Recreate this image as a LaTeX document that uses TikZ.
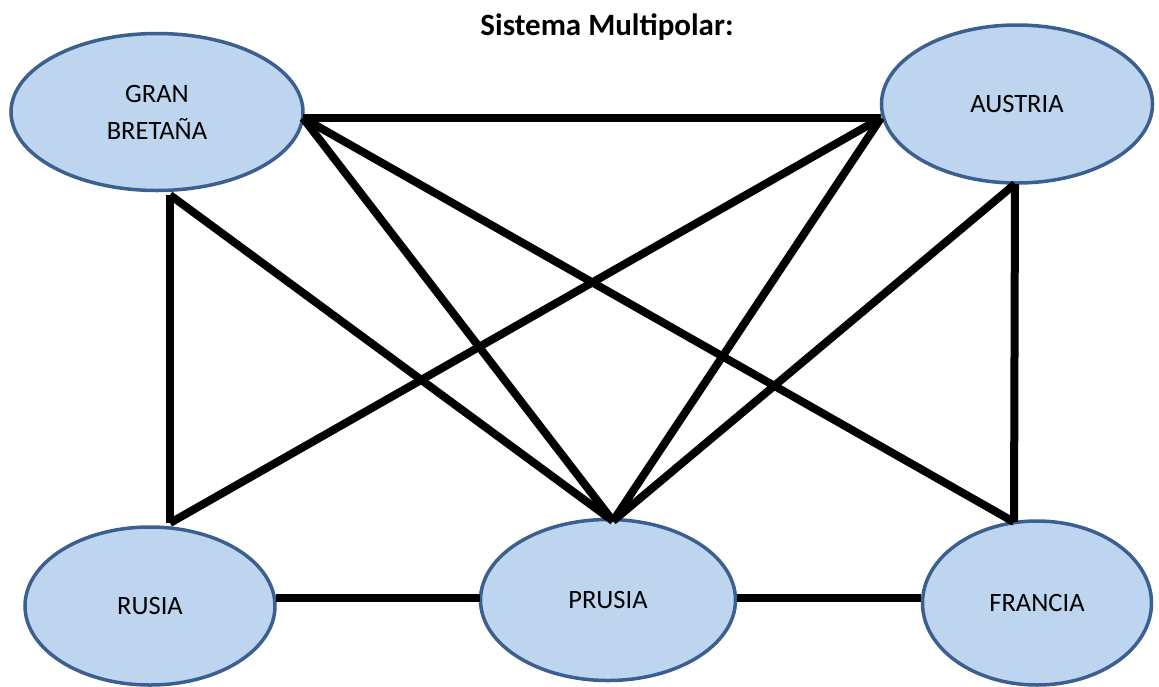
\documentclass[tikz,border=0pt]{standalone}
\usepackage{fontspec}
\setmainfont{Carlito}
\usetikzlibrary{shapes.geometric}
\definecolor{nodefill}{HTML}{BDD5EE}
\definecolor{nodeborder}{HTML}{3B6090}
\tikzset{
  country/.style={ellipse, draw=nodeborder, fill=nodefill, line width=3.5pt, inner sep=0pt,
    align=center, text=black, font=\fontsize{26.5}{37}\selectfont},
  link/.style={line width=8pt, black},
}
\begin{document}
\begin{tikzpicture}[x=1pt,y=-1pt]
\useasboundingbox (0,0) rectangle (1159,686);
\node[font=\bfseries\fontsize{31}{34}\selectfont] (title) at (607,27) {Sistema Multipolar:};
\node[country, minimum width=292pt, minimum height=157pt] (gb) at (157,112) {GRAN\\BRETAÑA};
\node[country, minimum width=271pt, minimum height=158pt] (au) at (1017,104) {AUSTRIA};
\node[country, minimum width=250pt, minimum height=158pt] (ru) at (150,606) {RUSIA};
\node[country, minimum width=255pt, minimum height=161pt] (pr) at (608,600) {PRUSIA};
\node[country, minimum width=229pt, minimum height=164pt] (fr) at (1037,603) {FRANCIA};
\coordinate (gbR) at (303,118);
\coordinate (gbB) at (170,195);
\coordinate (auL) at (881,118);
\coordinate (auB) at (1015,184);
\coordinate (ruT) at (170,523);
\coordinate (ruR) at (276,598);
\coordinate (prT) at (613,521);
\coordinate (prL) at (480,598);
\coordinate (prR) at (737,598);
\coordinate (frT) at (1014,522);
\coordinate (frL) at (921,598);
\draw[link] (gbR) -- (auL);
\draw[link] (gbR) -- (prT);
\draw[link] (gbR) -- (frT);
\draw[link] (gbB) -- (ruT);
\draw[link] (gbB) -- (prT);
\draw[link] (auL) -- (ruT);
\draw[link] (auL) -- (prT);
\draw[link] (auB) -- (frT);
\draw[link] (auB) -- (prT);
\draw[link] (ruR) -- (prL);
\draw[link] (prR) -- (frL);
\end{tikzpicture}
\end{document}
